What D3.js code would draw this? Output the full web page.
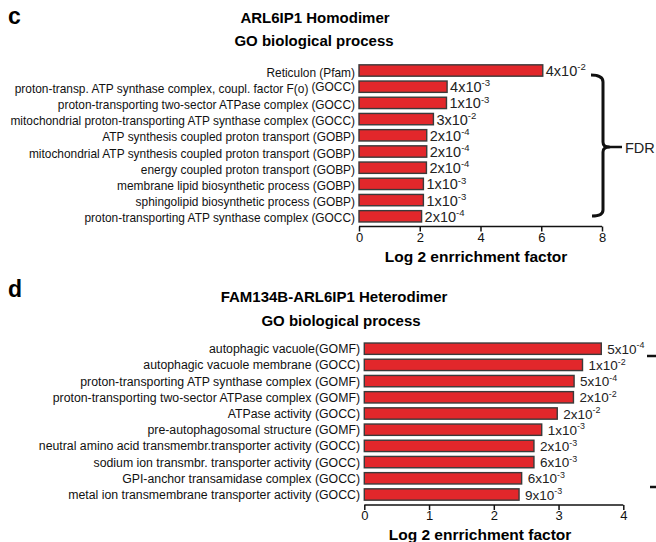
<!DOCTYPE html>
<html><head><meta charset="utf-8">
<script src="https://cdn.jsdelivr.net/npm/d3@7"></script>
<style>body{margin:0;background:#fff}svg{display:block}text{font-family:"Liberation Sans",Arial,sans-serif}</style>
</head><body><svg id="chart" width="656" height="542"></svg>
<script>
// ---- Panel c data ----
const cCategories = [
  "Reticulon (Pfam)",
  "proton-transp. ATP synthase complex, coupl. factor F(o)|(GOCC)",
  "proton-transporting two-sector ATPase complex (GOCC)",
  "mitochondrial proton-transporting ATP synthase complex (GOCC)",
  "ATP synthesis coupled proton transport (GOBP)",
  "mitochondrial ATP synthesis coupled proton transport (GOBP)",
  "energy coupled proton transport (GOBP)",
  "membrane lipid biosynthetic process (GOBP)",
  "sphingolipid biosynthetic process (GOBP)",
  "proton-transporting ATP synthase complex (GOCC)"
];
const cValues = [6.05, 2.9, 2.88, 2.45, 2.23, 2.23, 2.22, 2.12, 2.12, 2.06];
const cFdrBase = ["4","4","1","3","2","2","2","1","1","2"];
const cFdrExp = ["-2","-3","-3","-2","-4","-4","-4","-3","-3","-4"];
const cTicks = [0, 2, 4, 6, 8];

// ---- Panel d data ----
const dCategories = [
  "autophagic vacuole(GOMF)",
  "autophagic vacuole membrane (GOCC)",
  "proton-transporting ATP synthase complex (GOMF)",
  "proton-transporting two-sector ATPase complex (GOMF)",
  "ATPase activity (GOCC)",
  "pre-autophagosomal structure (GOMF)",
  "neutral amino acid transmembr.transporter activity (GOCC)",
  "sodium ion transmbr. transporter activity (GOCC)",
  "GPI-anchor transamidase complex (GOCC)",
  "metal ion transmembrane transporter activity (GOCC)"
];
const dValues = [3.66, 3.37, 3.24, 3.23, 2.98, 2.74, 2.62, 2.62, 2.43, 2.39];
const dFdrBase = ["5","1","5","2","2","1","2","6","6","9"];
const dFdrExp = ["-4","-2","-4","-2","-2","-3","-3","-3","-3","-3"];
const dTicks = [0, 1, 2, 3, 4];

const svg = d3.select("#chart");
const RED = "#e2272b", EDGE = "#3a3a3a";

function panel(o) {
  const g = svg.append("g");
  const x = d3.scaleLinear().domain(o.domain).range(o.xRange);
  const y = d3.scaleBand().domain(o.categories).range(o.yRange).paddingInner(0.3).paddingOuter(0.15);
  const data = o.categories.map((c, i) => ({c, v: o.values[i], b: o.base[i], e: o.exp[i]}));

  g.append("text").attr("x", o.letter[1]).attr("y", o.letter[2]).text(o.letter[0])
    .attr("font-size", 23).attr("font-weight", "bold");
  o.titles.forEach(t => g.append("text").attr("x", t[1]).attr("y", t[2]).attr("text-anchor", "middle")
    .attr("font-size", 15).attr("font-weight", "bold").text(t[0]));

  g.selectAll("rect.bar").data(data).join("rect").attr("class", "bar")
    .attr("x", x(0)).attr("y", d => y(d.c))
    .attr("width", d => x(d.v) - x(0)).attr("height", y.bandwidth())
    .attr("fill", RED).attr("stroke", EDGE).attr("stroke-width", 1.4);

  const lab = g.selectAll("text.cat").data(data).join("text").attr("class", "cat")
    .attr("x", o.labelX).attr("y", d => y(d.c) + y.bandwidth() / 2 + o.labelDy)
    .attr("text-anchor", "end").attr("font-size", o.labelSize).attr("fill", "#111");
  lab.each(function(d) {
    const parts = d.c.split("|");
    const t = d3.select(this);
    t.append("tspan").text(parts[0]);
    if (parts.length > 1) t.append("tspan").attr("dx", 3).attr("dy", -2).text(parts[1]);
  });

  const vl = g.selectAll("text.val").data(data).join("text").attr("class", "val")
    .attr("x", d => x(d.v) + o.valGap).attr("y", d => y(d.c) + y.bandwidth() / 2 + o.valDy)
    .attr("font-size", o.valSize).attr("fill", "#222");
  vl.append("tspan").text(d => d.b + "x10");
  vl.append("tspan").attr("dy", -o.valSize * 0.4).attr("font-size", o.valSize * 0.66).text(d => d.e);

  const ax = g.append("g").attr("transform", `translate(0,${o.axisY})`)
    .call(d3.axisBottom(x).tickValues(o.ticks).tickFormat(d3.format("d")).tickSize(5).tickPadding(o.tickPad));
  ax.select(".domain").attr("stroke", "#111").attr("stroke-width", 1.5).attr("d", `M${x(o.domain[0])},0H${x(o.domain[1])}`);
  ax.selectAll(".tick line").attr("stroke", "#111").attr("stroke-width", 1.5);
  ax.selectAll(".tick text").attr("font-size", 13).attr("fill", "#111")
    .attr("font-family", "Liberation Sans, Arial, sans-serif");
  g.append("text").attr("x", o.axisTitle[0]).attr("y", o.axisTitle[1]).attr("text-anchor", "middle")
    .attr("font-size", 15.5).attr("font-weight", "bold").text("Log 2 enrrichment factor");
  return {x, y};
}

panel({
  categories: cCategories, values: cValues, base: cFdrBase, exp: cFdrExp, ticks: cTicks,
  domain: [0, 8], xRange: [359, 602], yRange: [62.4, 224.4], axisY: 226.5, tickPad: 1.5,
  letter: ["c", 8, 24], titles: [["ARL6IP1 Homodimer", 315, 23], ["GO biological process", 314, 46]],
  labelX: 355, labelDy: 6, labelSize: 11.9, valGap: 3, valDy: 5.5, valSize: 14.5, axisTitle: [476, 262]
});

panel({
  categories: dCategories, values: dValues, base: dFdrBase, exp: dFdrExp, ticks: dTicks,
  domain: [0, 4], xRange: [364.3, 623.3], yRange: [340.6, 502.6], axisY: 505, tickPad: 0.5,
  letter: ["d", 8, 297], titles: [["FAM134B-ARL6IP1 Heterodimer", 334, 302], ["GO biological process", 341, 326]],
  labelX: 360, labelDy: 4.5, labelSize: 12.3, valGap: 6, valDy: 5, valSize: 13.5, axisTitle: [480, 540]
});

// FDR brace for panel c
const br = d3.path();
br.moveTo(591, 75);
br.quadraticCurveTo(603, 75, 603, 82);
br.lineTo(603, 142);
br.quadraticCurveTo(603, 147, 609, 147);
br.quadraticCurveTo(603, 147, 603, 152);
br.lineTo(603, 210);
br.quadraticCurveTo(603, 216, 592, 216);
svg.append("path").attr("d", br.toString()).attr("fill", "none").attr("stroke", "#111")
  .attr("stroke-width", 3).attr("stroke-linejoin", "round");
svg.append("line").attr("x1", 606).attr("x2", 622).attr("y1", 147).attr("y2", 147)
  .attr("stroke", "#111").attr("stroke-width", 2.5);
svg.append("text").attr("x", 625).attr("y", 152.5).attr("font-size", 14.5).attr("fill", "#222").text("FDR");

// cut-off brace ends for panel d
svg.append("line").attr("x1", 647).attr("x2", 656).attr("y1", 356).attr("y2", 356).attr("stroke", "#111").attr("stroke-width", 2.5);
svg.append("line").attr("x1", 650).attr("x2", 656).attr("y1", 487).attr("y2", 487).attr("stroke", "#111").attr("stroke-width", 2.5);
</script></body></html>
